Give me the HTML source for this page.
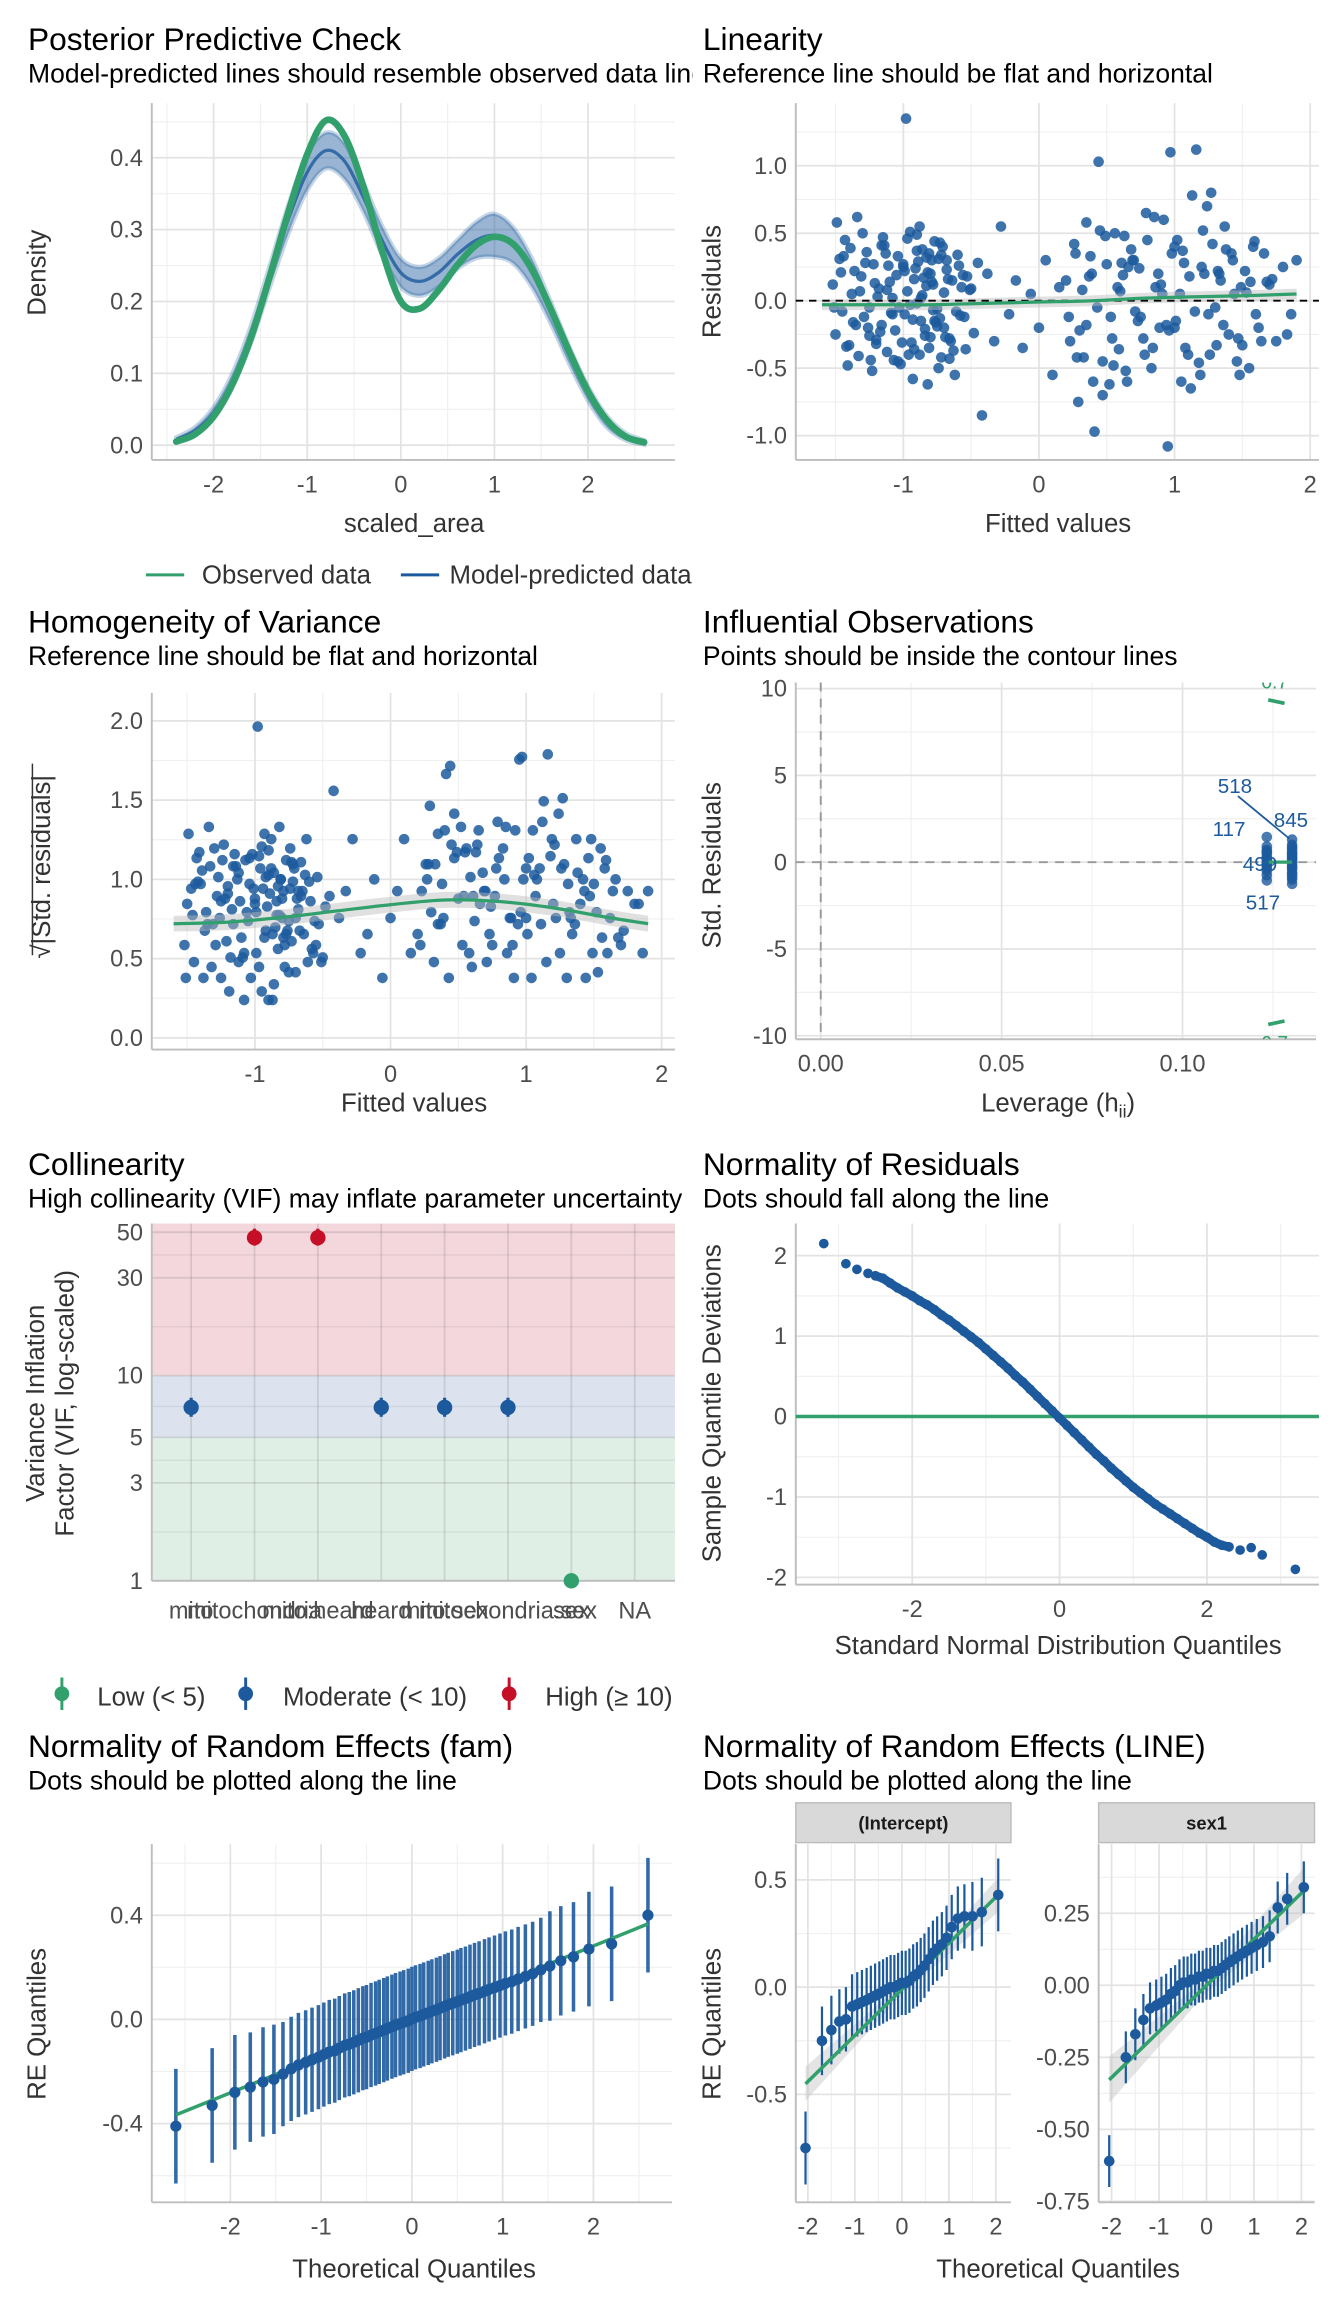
<!DOCTYPE html>
<html><head><meta charset="utf-8"><title>Model diagnostics</title>
<style>
html,body{margin:0;padding:0;background:#fff;}
svg{display:block;font-family:"Liberation Sans",Arial,sans-serif;}
</style></head>
<body>
<svg id="chart" xmlns="http://www.w3.org/2000/svg" viewBox="0 0 912 1563" width="1344" height="2304" preserveAspectRatio="none">
<rect x="0" y="0" width="912" height="1563" fill="#ffffff"/>
<defs>
<clipPath id="clipLeft"><rect x="0" y="0" width="470" height="1563"/></clipPath>
<clipPath id="clipInf"><rect x="540" y="463" width="353" height="242"/></clipPath>
</defs>
</svg>
<script>
// ---------- Panel 1: posterior predictive check ----------
const ppcX = [-2.4,-2.2,-2.0,-1.8,-1.6,-1.4,-1.2,-1.0,-0.8,-0.6,-0.4,-0.2,0.0,0.2,0.4,0.6,0.8,1.0,1.2,1.4,1.6,1.8,2.0,2.2,2.4,2.6];
const ppcObserved = [0.005,0.015,0.04,0.085,0.15,0.235,0.325,0.405,0.452,0.43,0.36,0.27,0.2,0.19,0.215,0.25,0.278,0.29,0.28,0.245,0.19,0.13,0.075,0.035,0.012,0.004];
const ppcPredMean = [0.008,0.02,0.045,0.09,0.155,0.235,0.315,0.38,0.41,0.395,0.345,0.285,0.24,0.228,0.24,0.265,0.285,0.292,0.278,0.24,0.185,0.125,0.072,0.033,0.012,0.004];
const ppcPredHi = [0.011,0.025,0.053,0.1,0.167,0.25,0.335,0.405,0.435,0.42,0.365,0.305,0.26,0.248,0.26,0.285,0.31,0.322,0.303,0.26,0.2,0.137,0.082,0.041,0.017,0.007];
const ppcPredLo = [0.005,0.015,0.037,0.08,0.143,0.22,0.295,0.355,0.385,0.37,0.325,0.265,0.22,0.208,0.22,0.245,0.26,0.262,0.253,0.22,0.17,0.113,0.062,0.025,0.007,0.001];

// ---------- Panel 2/3: linearity & homogeneity ----------
const fitted = [-1.52,-1.5,-1.47,-1.45,-1.43,-1.4,-1.38,-1.36,-1.33,-1.31,-1.29,-1.27,-1.25,-1.22,-1.2,-1.18,-1.16,-1.14,-1.12,-1.1,-1.08,-1.06,-1.04,-1.02,-1.0,-0.99,-0.97,-0.95,-0.94,-0.92,-0.9,-0.89,-0.87,-0.86,-0.84,-0.83,-0.81,-0.8,-0.78,-0.77,-0.75,-0.74,-0.72,-0.7,-0.68,-0.66,-0.64,-0.62,-0.6,-0.58,-0.56,-0.54,-0.51,-0.48,-0.45,-1.49,-1.41,-1.34,-1.23,-1.15,-1.07,-0.98,-0.93,-0.88,-0.82,-0.79,-0.76,-0.71,-0.65,-0.57,-1.26,-1.11,-0.96,-0.85,-0.73,-0.9,-1.03,-0.81,-0.69,-1.19,
-0.42,-0.38,-0.33,-0.28,-0.22,-0.17,-0.12,-0.06,0.0,0.05,0.1,0.15,
0.2,0.23,0.26,0.29,0.32,0.35,0.38,0.41,0.44,0.47,0.5,0.53,0.56,0.59,0.62,0.65,0.68,0.71,0.74,0.77,0.8,0.83,0.86,0.89,0.92,0.95,0.98,1.01,1.04,1.07,1.1,1.13,1.16,1.19,1.22,1.25,1.28,1.31,1.34,1.37,1.4,1.43,1.46,1.49,1.52,1.55,1.58,1.62,1.66,1.7,1.75,1.8,1.86,1.9,0.3,0.37,0.45,0.52,0.6,0.7,0.78,0.85,0.94,1.02,1.12,1.2,1.3,1.38,1.47,1.56,0.4,0.63,0.88,1.08,1.27,1.44,0.97,0.55,
-1.51,-1.46,-1.42,-1.39,-1.35,-1.32,-1.28,-1.24,-1.21,-1.17,-1.13,-1.09,-1.05,-1.01,-0.97,-0.93,-0.91,-0.88,-0.86,-0.83,-0.8,-0.78,-0.75,-0.73,-0.7,-0.67,-0.63,-0.59,-0.55,-0.5,-1.44,-1.37,-1.3,-1.2,-1.12,-1.04,-0.99,-0.95,-0.9,-0.84,-0.79,-0.74,-0.68,-0.61,-0.53,-1.25,-1.16,-1.08,-1.0,-0.92,-0.87,-0.82,-0.77,-0.72,-0.66,
0.22,0.27,0.33,0.39,0.43,0.49,0.54,0.58,0.64,0.69,0.73,0.79,0.84,0.9,0.96,1.0,1.05,1.11,1.15,1.21,1.26,1.32,1.36,1.42,1.48,1.53,1.59,1.64,1.72,1.83,0.35,0.47,0.61,0.75,0.91,1.06,1.18,1.33,1.5,1.68,0.28,0.66,1.0,1.24,1.6];
const residuals = [0.12,-0.25,0.31,-0.08,0.45,-0.33,0.05,0.22,-0.41,0.18,-0.12,0.36,-0.05,0.27,-0.29,0.09,-0.18,0.41,-0.38,0.14,0.02,-0.22,0.33,-0.47,0.25,-0.1,0.07,0.51,-0.31,0.16,-0.02,0.29,-0.15,0.38,-0.26,0.11,-0.35,0.2,-0.07,0.44,
-0.19,0.31,-0.42,0.06,0.23,-0.28,0.15,-0.55,0.34,-0.11,0.19,-0.36,0.08,-0.24,0.28,0.58,-0.48,0.62,-0.52,0.47,-0.44,1.35,-0.58,0.55,-0.62,0.3,-0.16,0.4,-0.3,0.1,-0.2,0.26,-0.4,0.17,-0.13,0.49,-0.05,0.35,-0.27,0.03,
-0.85,0.2,-0.3,0.55,-0.1,0.15,-0.35,0.05,-0.2,0.3,-0.55,0.1,
0.15,-0.3,0.42,-0.75,0.08,-0.18,0.33,-0.97,1.03,-0.45,0.27,-0.12,0.5,-0.36,0.19,-0.6,0.38,-0.08,0.24,-0.28,0.45,-0.5,0.1,-0.2,0.6,-1.08,0.35,-0.15,0.05,0.28,-0.4,0.78,1.12,-0.55,0.2,-0.1,0.42,-0.33,0.15,0.55,-0.25,0.3,-0.45,0.1,0.22,-0.5,0.4,-0.2,0.35,0.12,-0.3,0.25,-0.1,0.3,
-0.22,0.18,0.52,-0.62,0.07,0.3,-0.4,0.62,-0.18,0.45,-0.65,0.25,-0.05,0.38,-0.28,0.14,-0.6,0.48,0.2,-0.35,0.8,0.05,1.1,-0.48,
-0.05,0.21,-0.34,0.39,-0.18,0.07,0.28,-0.44,0.13,-0.23,0.35,-0.09,0.19,-0.31,0.46,-0.14,0.24,-0.4,0.04,0.32,-0.27,0.12,-0.06,0.43,-0.2,0.16,-0.37,0.26,-0.12,0.09,0.33,-0.16,0.5,-0.32,0.08,-0.45,0.22,-0.03,0.37,-0.21,0.14,-0.5,0.3,-0.08,0.18,-0.26,0.41,-0.1,0.27,-0.36,0.02,0.21,-0.15,0.34,-0.43,
-0.12,0.35,-0.42,0.2,-0.05,0.48,-0.28,0.1,-0.52,0.3,-0.15,0.65,-0.35,0.12,-0.22,0.4,-0.6,0.18,-0.08,0.52,-0.4,0.22,-0.18,0.35,-0.55,0.06,0.44,-0.3,0.16,-0.25,0.58,-0.7,0.28,-0.12,0.05,0.37,-0.46,0.2,-0.33,0.14,-0.42,0.25,-0.2,0.7,-0.1];
const residualSD = 0.35;
const loessX = [-1.6,-1.2,-0.8,-0.4,0,0.4,0.8,1.2,1.6,1.9];
const linLoessY = [-0.03,-0.03,-0.03,-0.02,-0.01,0.0,0.02,0.03,0.04,0.05];
const homLoessY = [0.72,0.73,0.76,0.8,0.84,0.87,0.86,0.82,0.76,0.72];

// ---------- Panel 4: influential observations ----------
const leverage = [0.1233,0.1233,0.1233,0.1233,0.1233,0.1233,0.1233,0.1233,0.1233,0.1233,0.1233,0.1233,0.1233,0.1233,0.1233,
0.1303,0.1303,0.1303,0.1303,0.1303,0.1303,0.1303,0.1303,0.1303,0.1303,0.1303,0.1303,0.1303,0.1303,0.1303,0.1303,0.1303,0.1303,0.1303];
const stdResid = [1.45,0.9,0.7,0.5,0.3,0.15,0,-0.2,-0.35,-0.5,0.6,0.2,-0.1,-0.75,-1.05,
1.3,1.0,0.75,0.5,0.3,0.1,-0.05,-0.2,-0.4,-0.6,-0.85,-1.0,-1.25,0.6,0.2,-0.3,-0.7,0.85,0.4];
const influenceLabels = ["518","117","845","499","517"];

// ---------- Panel 5: collinearity ----------
const vifTerms = ["mito","mitochondria","mito:heard","heard","mito:sex","mitochondria:sex","sex","NA"];
const vifValues = [7,47,47,7,7,7,1,null];
const vifLow = [6.3,43,43,6.3,6.3,6.3,1,null];
const vifHigh = [7.8,52,52,7.8,7.8,7.8,1,null];

// ---------- Panel 6: normality of residuals ----------
const qqTheo = [-3.2,-2.9,-2.75,-2.6,-2.5,-2.4,-2.3,-2.2,-2.1,-2.0,-1.9,-1.8,-1.7,-1.6,-1.5,-1.4,-1.3,-1.2,-1.1,-1.0,-0.9,-0.8,-0.7,-0.6,-0.5,-0.4,-0.3,-0.2,-0.1,0,0.1,0.2,0.3,0.4,0.5,0.6,0.7,0.8,0.9,1.0,1.1,1.2,1.3,1.4,1.5,1.6,1.7,1.8,1.9,2.0,2.1,2.2,2.3,2.45,2.6,2.75,3.2];
const qqSample = [2.15,1.9,1.83,1.78,1.75,1.72,1.66,1.6,1.55,1.5,1.44,1.39,1.33,1.26,1.2,1.13,1.06,0.99,0.92,0.84,0.76,0.68,0.6,0.51,0.43,0.34,0.25,0.16,0.07,-0.02,-0.11,-0.2,-0.29,-0.38,-0.47,-0.55,-0.64,-0.72,-0.8,-0.88,-0.95,-1.02,-1.09,-1.15,-1.21,-1.27,-1.33,-1.39,-1.45,-1.5,-1.56,-1.6,-1.62,-1.66,-1.63,-1.72,-1.9];

// ---------- Panel 7: random effects (fam) ----------
const famTheo = [-2.6,-2.2,-1.95,-1.78,-1.64,-1.52,-1.42,-1.33,-1.25,-1.17,-1.1,-1.03,-0.97,-0.91,-0.85,-0.8,-0.74,-0.69,-0.64,-0.59,-0.54,-0.5,-0.45,-0.4,-0.36,-0.31,-0.27,-0.22,-0.18,-0.13,-0.09,-0.04,0,0.04,0.09,0.13,0.18,0.22,0.27,0.31,0.36,0.4,0.45,0.5,0.54,0.59,0.64,0.69,0.74,0.8,0.85,0.91,0.97,1.03,1.1,1.17,1.25,1.33,1.42,1.52,1.64,1.78,1.95,2.2,2.6];
const famRE = [-0.41,-0.33,-0.28,-0.26,-0.24,-0.23,-0.21,-0.19,-0.175,-0.165,-0.155,-0.145,-0.135,-0.125,-0.12,-0.11,-0.1,-0.095,-0.088,-0.08,-0.072,-0.068,-0.06,-0.054,-0.048,-0.041,-0.035,-0.028,-0.022,-0.016,-0.011,-0.005,0.002,0.008,0.013,0.019,0.025,0.031,0.037,0.043,0.05,0.056,0.062,0.068,0.074,0.08,0.087,0.094,0.1,0.108,0.115,0.122,0.13,0.138,0.145,0.155,0.165,0.175,0.19,0.205,0.225,0.24,0.27,0.29,0.4];
const famSE = [0.22,0.22,0.22,0.21,0.21,0.21,0.2,0.2,0.2,0.2,0.2,0.2,0.2,0.2,0.2,0.2,0.2,0.2,0.2,0.2,0.2,0.2,0.2,0.2,0.2,0.2,0.2,0.2,0.2,0.2,0.2,0.2,0.2,0.2,0.2,0.2,0.2,0.2,0.2,0.2,0.2,0.2,0.2,0.2,0.2,0.2,0.2,0.2,0.2,0.2,0.2,0.2,0.2,0.2,0.2,0.2,0.2,0.2,0.2,0.21,0.21,0.21,0.22,0.22,0.22];
const famLine = [0.0, 0.141]; // intercept, slope

// ---------- Panel 8: random effects (LINE) ----------
const lineTheo = [-2.05,-1.7,-1.5,-1.33,-1.19,-1.06,-0.95,-0.85,-0.75,-0.66,-0.57,-0.48,-0.4,-0.32,-0.24,-0.16,-0.08,0,0.08,0.16,0.24,0.32,0.4,0.48,0.57,0.66,0.75,0.85,0.95,1.06,1.19,1.33,1.5,1.7,2.05];
const lineInterceptRE = [-0.75,-0.25,-0.2,-0.16,-0.15,-0.09,-0.08,-0.07,-0.06,-0.05,-0.04,-0.03,-0.02,-0.01,0,0.0,0.01,0.02,0.02,0.03,0.05,0.06,0.08,0.1,0.13,0.16,0.18,0.2,0.23,0.28,0.32,0.33,0.33,0.35,0.43];
const lineInterceptSE = [0.17,0.16,0.16,0.15,0.15,0.15,0.15,0.15,0.15,0.15,0.15,0.15,0.15,0.15,0.15,0.15,0.15,0.15,0.15,0.15,0.15,0.15,0.15,0.15,0.15,0.15,0.15,0.15,0.15,0.15,0.15,0.15,0.16,0.16,0.17];
const lineSexRE = [-0.61,-0.25,-0.17,-0.12,-0.08,-0.07,-0.06,-0.05,-0.03,-0.02,0.0,0.01,0.01,0.02,0.02,0.03,0.03,0.04,0.04,0.05,0.05,0.06,0.07,0.08,0.09,0.1,0.11,0.12,0.13,0.14,0.15,0.17,0.27,0.3,0.34];
const lineSexSE = [0.09,0.09,0.09,0.09,0.09,0.09,0.09,0.09,0.09,0.09,0.09,0.09,0.09,0.09,0.09,0.09,0.09,0.09,0.09,0.09,0.09,0.09,0.09,0.09,0.09,0.09,0.09,0.09,0.09,0.09,0.09,0.09,0.09,0.09,0.09];
const lineInterceptFit = [-0.01, 0.215];
const lineSexFit = [0.0, 0.16];

// ================= drawing =================
const NS = 'http://www.w3.org/2000/svg';
const svg = document.getElementById('chart');
const GREEN = '#31a06c', BLUE = '#1c5a9d', RED = '#c50f26';
const TICK = '#4d4d4d';
const TICKSIZE = 16, AXSIZE = 17.5;

function mk(tag, attrs, parent) {
  const e = document.createElementNS(NS, tag);
  for (const k in attrs) e.setAttribute(k, attrs[k]);
  (parent || svg).appendChild(e);
  return e;
}
function named(e, name) {
  
  
  return e;
}
function lin(d0, d1, r0, r1) { return v => r0 + (v - d0) * (r1 - r0) / (d1 - d0); }
function txt(parent, x, y, s, size, fill, anchor, name, extra) {
  const a = {x: x, y: y, 'font-size': size, fill: fill, 'text-anchor': anchor || 'start'};
  if (extra) for (const k in extra) a[k] = extra[k];
  const t = mk('text', a, parent);
  t.textContent = s;
  named(t, name);
  return t;
}
function grp(name) {
  const g = mk('g', {});
  named(g, name);
  return g;
}
function smoothPath(pts) {
  let d = 'M' + pts[0][0].toFixed(2) + ',' + pts[0][1].toFixed(2);
  for (let i = 0; i < pts.length - 1; i++) {
    const p0 = pts[i - 1] || pts[i], p1 = pts[i], p2 = pts[i + 1], p3 = pts[i + 2] || p2;
    const c1 = [p1[0] + (p2[0] - p0[0]) / 6, p1[1] + (p2[1] - p0[1]) / 6];
    const c2 = [p2[0] - (p3[0] - p1[0]) / 6, p2[1] - (p3[1] - p1[1]) / 6];
    d += ' C' + c1[0].toFixed(2) + ',' + c1[1].toFixed(2) + ' ' + c2[0].toFixed(2) + ',' + c2[1].toFixed(2) + ' ' + p2[0].toFixed(2) + ',' + p2[1].toFixed(2);
  }
  return d;
}
function titles(x, y, title, sub, key, clip) {
  txt(svg, x, y, title, 21.5, '#000', 'start', key + '-title');
  const ex = clip ? {'clip-path': 'url(#clipLeft)'} : null;
  txt(svg, x, y + 22, sub, 18, '#000', 'start', key + '-subtitle', ex);
}
function axes(g, p) {
  (p.ym || []).forEach(v => { named(mk('line', {x1: p.x0, x2: p.x1, y1: p.sy(v), y2: p.sy(v), stroke: '#f0f0f0', 'stroke-width': 0.8}, g), 'minor-gridline'); });
  (p.xm || []).forEach(v => { named(mk('line', {x1: p.sx(v), x2: p.sx(v), y1: p.y0, y2: p.y1, stroke: '#f0f0f0', 'stroke-width': 0.8}, g), 'minor-gridline'); });
  p.yt.forEach(v => { named(mk('line', {x1: p.x0, x2: p.x1, y1: p.sy(v), y2: p.sy(v), stroke: '#e3e3e3', 'stroke-width': 1.2}, g), 'major-gridline'); });
  p.xt.forEach(v => { named(mk('line', {x1: p.sx(v), x2: p.sx(v), y1: p.y0, y2: p.y1, stroke: '#e3e3e3', 'stroke-width': 1.2}, g), 'major-gridline'); });
  named(mk('line', {x1: p.x0, x2: p.x0, y1: p.y0, y2: p.y1, stroke: '#bdbdbd', 'stroke-width': 1.3}, g), 'y-axis-line');
  named(mk('line', {x1: p.x0, x2: p.x1, y1: p.y1, y2: p.y1, stroke: '#bdbdbd', 'stroke-width': 1.3}, g), 'x-axis-line');
  p.yt.forEach((v, i) => { txt(g, p.x0 - 6, p.sy(v) + 5.5, p.yl[i], TICKSIZE, TICK, 'end', 'y-tick-label'); });
  p.xt.forEach((v, i) => { txt(g, p.sx(v), p.y1 + 22, p.xl[i], TICKSIZE, TICK, 'middle', 'x-tick-label'); });
}
function ytitle(x, y, s, name) {
  txt(svg, x, y, s, AXSIZE, '#333', 'middle', name, {transform: 'rotate(-90 ' + x + ' ' + y + ')'});
}

// ---------- Panel 1 ----------
titles(19, 34, 'Posterior Predictive Check', 'Model-predicted lines should resemble observed data lines', 'ppc', true);
{
  const g = grp('ppc-panel');
  const p = {x0: 103, x1: 458, y0: 70, y1: 312, sx: lin(-2.661, 2.929, 103, 458), sy: lin(-0.0205, 0.476, 312, 70),
    xt: [-2,-1,0,1,2], xl: ['-2','-1','0','1','2'], xm: [-2.5,-1.5,-0.5,0.5,1.5,2.5],
    yt: [0,0.1,0.2,0.3,0.4], yl: ['0.0','0.1','0.2','0.3','0.4'], ym: [0.05,0.15,0.25,0.35,0.45]};
  axes(g, p);
  const hi = ppcX.map((x, i) => [p.sx(x), p.sy(ppcPredHi[i])]);
  const lo = ppcX.map((x, i) => [p.sx(x), p.sy(ppcPredLo[i])]).reverse();
  named(mk('path', {d: smoothPath(hi) + ' L' + smoothPath(lo).slice(1) + ' Z', fill: BLUE, 'fill-opacity': 0.45, stroke: BLUE, 'stroke-opacity': 0.25, 'stroke-width': 3}, g), 'model-predicted-band');
  named(mk('path', {d: smoothPath(ppcX.map((x, i) => [p.sx(x), p.sy(ppcPredMean[i])])), fill: 'none', stroke: BLUE, 'stroke-width': 2.2, 'stroke-opacity': 0.8}, g), 'model-predicted-line');
  named(mk('path', {d: smoothPath(ppcX.map((x, i) => [p.sx(x), p.sy(ppcObserved[i])])), fill: 'none', stroke: GREEN, 'stroke-width': 4.5, 'stroke-linecap': 'round'}, g), 'observed-data-line');
  txt(svg, 281, 361, 'scaled_area', AXSIZE, '#333', 'middle', 'ppc-x-axis-title');
  ytitle(31, 185, 'Density', 'ppc-y-axis-title');
  const lg = grp('ppc-legend');
  named(mk('line', {x1: 99, x2: 125, y1: 390, y2: 390, stroke: GREEN, 'stroke-width': 2}, lg), 'legend-key-observed');
  txt(lg, 137, 396, 'Observed data', AXSIZE, '#333', 'start', 'legend-label-observed');
  named(mk('line', {x1: 272, x2: 298, y1: 390, y2: 390, stroke: BLUE, 'stroke-width': 2}, lg), 'legend-key-predicted');
  txt(lg, 305, 396, 'Model-predicted data', AXSIZE, '#333', 'start', 'legend-label-predicted', {'clip-path': 'url(#clipLeft)'});
}

// ---------- Panel 2 ----------
titles(477, 34, 'Linearity', 'Reference line should be flat and horizontal', 'linearity');
{
  const g = grp('linearity-panel');
  const p = {x0: 540, x1: 895, y0: 70, y1: 312, sx: lin(-1.793, 2.065, 540, 895), sy: lin(-1.18, 1.464, 312, 70),
    xt: [-1,0,1,2], xl: ['-1','0','1','2'], xm: [-1.5,-0.5,0.5,1.5],
    yt: [-1,-0.5,0,0.5,1], yl: ['-1.0','-0.5','0.0','0.5','1.0'], ym: [-0.75,-0.25,0.25,0.75,1.25]};
  axes(g, p);
  fitted.forEach((f, i) => {
    if (residuals[i] === undefined) return;
    const c = mk('circle', {cx: p.sx(f), cy: p.sy(residuals[i]), r: 3.6, fill: BLUE, 'fill-opacity': 0.85}, g);
    named(c, 'residual-point');
  });
  const up = loessX.map((x, i) => [p.sx(x), p.sy(linLoessY[i] + 0.04)]);
  const dn = loessX.map((x, i) => [p.sx(x), p.sy(linLoessY[i] - 0.04)]).reverse();
  named(mk('path', {d: smoothPath(up) + ' L' + smoothPath(dn).slice(1) + ' Z', fill: '#bbb', 'fill-opacity': 0.45}, g), 'loess-ribbon');
  named(mk('line', {x1: 540, x2: 895, y1: p.sy(0), y2: p.sy(0), stroke: '#000', 'stroke-width': 1.3, 'stroke-dasharray': '5,4'}, g), 'reference-line');
  named(mk('path', {d: smoothPath(loessX.map((x, i) => [p.sx(x), p.sy(linLoessY[i])])), fill: 'none', stroke: GREEN, 'stroke-width': 2.2}, g), 'loess-line');
  txt(svg, 718, 361, 'Fitted values', AXSIZE, '#333', 'middle', 'linearity-x-axis-title');
  ytitle(489, 191, 'Residuals', 'linearity-y-axis-title');
}

// ---------- Panel 3 ----------
titles(19, 429, 'Homogeneity of Variance', 'Reference line should be flat and horizontal', 'homogeneity');
{
  const g = grp('homogeneity-panel');
  const p = {x0: 103, x1: 458, y0: 470, y1: 712, sx: lin(-1.761, 2.098, 103, 458), sy: lin(-0.074, 2.177, 712, 470),
    xt: [-1,0,1,2], xl: ['-1','0','1','2'], xm: [-1.5,-0.5,0.5,1.5],
    yt: [0,0.5,1,1.5,2], yl: ['0.0','0.5','1.0','1.5','2.0'], ym: [0.25,0.75,1.25,1.75]};
  axes(g, p);
  fitted.forEach((f, i) => {
    if (residuals[i] === undefined) return;
    const v = Math.sqrt(Math.abs(residuals[i]) / residualSD);
    const c = mk('circle', {cx: p.sx(f), cy: p.sy(v), r: 3.6, fill: BLUE, 'fill-opacity': 0.85}, g);
    named(c, 'sqrt-std-residual-point');
  });
  const up = loessX.map((x, i) => [p.sx(x), p.sy(homLoessY[i] + 0.05)]);
  const dn = loessX.map((x, i) => [p.sx(x), p.sy(homLoessY[i] - 0.05)]).reverse();
  named(mk('path', {d: smoothPath(up) + ' L' + smoothPath(dn).slice(1) + ' Z', fill: '#bbb', 'fill-opacity': 0.45}, g), 'loess-ribbon');
  named(mk('path', {d: smoothPath(loessX.map((x, i) => [p.sx(x), p.sy(homLoessY[i])])), fill: 'none', stroke: GREEN, 'stroke-width': 2.2}, g), 'loess-line');
  txt(svg, 281, 754, 'Fitted values', AXSIZE, '#333', 'middle', 'homogeneity-x-axis-title');
  ytitle(34, 588, '√|Std. residuals|', 'homogeneity-y-axis-title');
  named(mk('line', {x1: 22, x2: 22, y1: 518, y2: 648, stroke: '#333', 'stroke-width': 1}), 'sqrt-overline');
}

// ---------- Panel 4 ----------
titles(477, 429, 'Influential Observations', 'Points should be inside the contour lines', 'influence');
{
  const g = grp('influence-panel');
  const p = {x0: 540, x1: 893, y0: 463, y1: 705, sx: lin(-0.0069, 0.1369, 540, 893), sy: lin(-10.2, 10.35, 705, 463),
    xt: [0,0.05,0.1], xl: ['0.00','0.05','0.10'], xm: [0.025,0.075,0.125],
    yt: [-10,-5,0,5,10], yl: ['-10','-5','0','5','10'], ym: [-7.5,-2.5,2.5,7.5]};
  axes(g, p);
  named(mk('line', {x1: p.sx(0), x2: p.sx(0), y1: 463, y2: 705, stroke: '#999', 'stroke-width': 1.3, 'stroke-dasharray': '6,5'}, g), 'zero-leverage-line');
  named(mk('line', {x1: 540, x2: 893, y1: p.sy(0), y2: p.sy(0), stroke: '#999', 'stroke-width': 1.3, 'stroke-dasharray': '6,5'}, g), 'zero-residual-line');
  named(mk('line', {x1: p.sx(0.1237), x2: p.sx(0.1282), y1: p.sy(9.35), y2: p.sy(9.15), stroke: GREEN, 'stroke-width': 2.5}, g), 'cook-contour-upper');
  named(mk('line', {x1: p.sx(0.1237), x2: p.sx(0.1282), y1: p.sy(-9.35), y2: p.sy(-9.15), stroke: GREEN, 'stroke-width': 2.5}, g), 'cook-contour-lower');
  txt(g, 865, 467, '0.7', 13, GREEN, 'middle', 'contour-label-upper', {'clip-path': 'url(#clipInf)'});
  txt(g, 865, 712, '0.7', 13, GREEN, 'middle', 'contour-label-lower', {'clip-path': 'url(#clipInf)'});
  leverage.forEach((l, i) => {
    const c = mk('circle', {cx: p.sx(l), cy: p.sy(stdResid[i]), r: 3.6, fill: BLUE, 'fill-opacity': 0.8}, g);
    named(c, 'observation-point');
  });
  named(mk('line', {x1: p.sx(0.1233), x2: p.sx(0.1303), y1: p.sy(0), y2: p.sy(0), stroke: GREEN, 'stroke-width': 2.2}, g), 'loess-line');
  named(mk('line', {x1: 840, x2: 875, y1: 540, y2: 569, stroke: BLUE, 'stroke-width': 1.2}, g), 'label-connector');
  txt(g, 838, 538, influenceLabels[0], 14, BLUE, 'middle', 'point-label-518');
  txt(g, 834, 567, influenceLabels[1], 14, BLUE, 'middle', 'point-label-117');
  txt(g, 876, 561, influenceLabels[2], 14, BLUE, 'middle', 'point-label-845');
  txt(g, 855, 591, influenceLabels[3], 14, BLUE, 'middle', 'point-label-499');
  txt(g, 857, 617, influenceLabels[4], 14, BLUE, 'middle', 'point-label-517');
  const lt = txt(svg, 718, 754, 'Leverage (h', AXSIZE, '#333', 'middle', 'influence-x-axis-title');
  const sub = mk('tspan', {'font-size': 12, dy: 4}, lt); sub.textContent = 'ii';
  named(sub, 'subscript-ii');
  const cl = mk('tspan', {dy: -4}, lt); cl.textContent = ')';
  named(cl, 'closing-paren');
  ytitle(489, 587, 'Std. Residuals', 'influence-y-axis-title');
}

// ---------- Panel 5 ----------
titles(19, 797, 'Collinearity', 'High collinearity (VIF) may inflate parameter uncertainty', 'collinearity', true);
{
  const g = grp('collinearity-panel');
  const x0 = 103, x1 = 458, y0 = 830, y1 = 1072.4;
  const sy = v => 1072.4 - 139.2 * Math.log10(v);
  const sx = i => 129.7 + i * 43;
  named(mk('rect', {x: x0, y: y0, width: x1 - x0, height: sy(10) - y0, fill: '#f4d7dc'}, g), 'high-vif-band');
  named(mk('rect', {x: x0, y: sy(10), width: x1 - x0, height: sy(5) - sy(10), fill: '#dce3ef'}, g), 'moderate-vif-band');
  named(mk('rect', {x: x0, y: sy(5), width: x1 - x0, height: y1 - sy(5), fill: '#dfefe6'}, g), 'low-vif-band');
  [1.73, 3.87, 7.07, 17.3, 38.7].forEach(v => { named(mk('line', {x1: x0, x2: x1, y1: sy(v), y2: sy(v), stroke: 'rgba(120,120,120,0.13)', 'stroke-width': 1}, g), 'minor-gridline'); });
  const yt = [1,3,5,10,30,50];
  yt.forEach(v => { named(mk('line', {x1: x0, x2: x1, y1: sy(v), y2: sy(v), stroke: 'rgba(120,120,120,0.22)', 'stroke-width': 1.2}, g), 'major-gridline'); });
  vifTerms.forEach((t, i) => { named(mk('line', {x1: sx(i), x2: sx(i), y1: y0, y2: y1, stroke: 'rgba(120,120,120,0.22)', 'stroke-width': 1.2}, g), 'major-gridline'); });
  named(mk('line', {x1: x0, x2: x0, y1: y0, y2: y1, stroke: '#bdbdbd', 'stroke-width': 1.3}, g), 'y-axis-line');
  named(mk('line', {x1: x0, x2: x1, y1: y1, y2: y1, stroke: '#bdbdbd', 'stroke-width': 1.3}, g), 'x-axis-line');
  yt.forEach(v => { txt(g, x0 - 6, sy(v) + 5.5, String(v), TICKSIZE, TICK, 'end', 'y-tick-label'); });
  vifTerms.forEach((t, i) => { txt(g, sx(i), 1098, t, TICKSIZE, TICK, 'middle', 'x-tick-label'); });
  vifValues.forEach((v, i) => {
    if (v === null) return;
    const col = v >= 10 ? RED : (v >= 5 ? BLUE : GREEN);
    named(mk('line', {x1: sx(i), x2: sx(i), y1: sy(vifLow[i]), y2: sy(vifHigh[i]), stroke: col, 'stroke-width': 2.2}, g), 'vif-interval');
    named(mk('circle', {cx: sx(i), cy: sy(v), r: 5.2, fill: col}, g), 'vif-point');
  });
  ytitle(30, 952, 'Variance Inflation', 'collinearity-y-axis-title-line1');
  ytitle(50, 952, 'Factor (VIF, log-scaled)', 'collinearity-y-axis-title-line2');
  const lg = grp('collinearity-legend');
  [[42, GREEN, 66, 'Low (< 5)'], [166.7, BLUE, 192, 'Moderate (< 10)'], [345.5, RED, 370, 'High (≥ 10)']].forEach(e => {
    named(mk('line', {x1: e[0], x2: e[0], y1: 1138, y2: 1160, stroke: e[1], 'stroke-width': 2}, lg), 'legend-key-line');
    named(mk('circle', {cx: e[0], cy: 1149, r: 5, fill: e[1]}, lg), 'legend-key-point');
    txt(lg, e[2], 1157, e[3], AXSIZE, '#333', 'start', 'legend-label');
  });
}

// ---------- Panel 6 ----------
titles(477, 797, 'Normality of Residuals', 'Dots should fall along the line', 'normality');
{
  const g = grp('normality-panel');
  const p = {x0: 540, x1: 895, y0: 830, y1: 1075, sx: lin(-3.58, 3.52, 540, 895), sy: lin(-2.09, 2.4, 1075, 830),
    xt: [-2,0,2], xl: ['-2','0','2'], xm: [-3,-1,1,3],
    yt: [-2,-1,0,1,2], yl: ['-2','-1','0','1','2'], ym: [-1.5,-0.5,0.5,1.5]};
  axes(g, p);
  named(mk('line', {x1: 540, x2: 895, y1: p.sy(0), y2: p.sy(0), stroke: GREEN, 'stroke-width': 2.4}, g), 'reference-line');
  const core = qqTheo.map((t, i) => [p.sx(t), p.sy(qqSample[i])]).filter((q, i) => qqTheo[i] >= -2.5 && qqTheo[i] <= 2.3);
  named(mk('polyline', {points: core.map(q => q.join(',')).join(' '), fill: 'none', stroke: BLUE, 'stroke-width': 6, 'stroke-linecap': 'round', 'stroke-linejoin': 'round'}, g), 'qq-dense-points');
  qqTheo.forEach((t, i) => {
    const c = mk('circle', {cx: p.sx(t), cy: p.sy(qqSample[i]), r: 3.3, fill: BLUE}, g);
    named(c, 'qq-point');
  });
  txt(svg, 718, 1122, 'Standard Normal Distribution Quantiles', AXSIZE, '#333', 'middle', 'normality-x-axis-title');
  ytitle(489, 952, 'Sample Quantile Deviations', 'normality-y-axis-title');
}

// ---------- Panel 7 ----------
titles(19, 1192, 'Normality of Random Effects (fam)', 'Dots should be plotted along the line', 're-fam');
{
  const g = grp('re-fam-panel');
  const p = {x0: 103, x1: 456, y0: 1251, y1: 1494, sx: lin(-2.865, 2.865, 103, 456), sy: lin(-0.702, 0.673, 1494, 1251),
    xt: [-2,-1,0,1,2], xl: ['-2','-1','0','1','2'], xm: [-2.5,-1.5,-0.5,0.5,1.5,2.5],
    yt: [-0.4,0,0.4], yl: ['-0.4','0.0','0.4'], ym: [-0.6,-0.2,0.2,0.6]};
  axes(g, p);
  famTheo.forEach((t, i) => {
    named(mk('line', {x1: p.sx(t), x2: p.sx(t), y1: p.sy(famRE[i] - famSE[i]), y2: p.sy(famRE[i] + famSE[i]), stroke: BLUE, 'stroke-width': 2.4, 'stroke-opacity': 0.9}, g), 're-interval');
  });
  named(mk('line', {x1: p.sx(-2.6), x2: p.sx(2.6), y1: p.sy(famLine[0] + famLine[1] * -2.6), y2: p.sy(famLine[0] + famLine[1] * 2.6), stroke: GREEN, 'stroke-width': 2.4}, g), 'reference-line');
  famTheo.forEach((t, i) => {
    named(mk('circle', {cx: p.sx(t), cy: p.sy(famRE[i]), r: 3.8, fill: BLUE}, g), 're-point');
  });
  txt(svg, 281, 1545, 'Theoretical Quantiles', AXSIZE, '#333', 'middle', 're-fam-x-axis-title');
  ytitle(31, 1373, 'RE Quantiles', 're-fam-y-axis-title');
}

// ---------- Panel 8 ----------
titles(477, 1192, 'Normality of Random Effects (LINE)', 'Dots should be plotted along the line', 're-line');
function facet(key, label, x0, x1, sx, sy, yt, yl, ym, re, se, fit) {
  const g = grp(key + '-facet');
  named(mk('rect', {x: x0, y: 1223, width: x1 - x0, height: 27, fill: '#d9d9d9', stroke: '#bdbdbd', 'stroke-width': 1}, g), key + '-strip');
  txt(g, (x0 + x1) / 2, 1241, label, 12.5, '#1a1a1a', 'middle', key + '-strip-label', {'font-weight': 'bold'});
  const p = {x0: x0, x1: x1, y0: 1251, y1: 1494, sx: sx, sy: sy,
    xt: [-2,-1,0,1,2], xl: ['-2','-1','0','1','2'], xm: [-1.5,-0.5,0.5,1.5], yt: yt, yl: yl, ym: ym};
  axes(g, p);
  const a = -2.05, b = 2.05, w = 0.05;
  const rib = [[sx(a), sy(fit[0] + fit[1] * a + w * 1.6)], [sx(0), sy(fit[0] + w * 0.5)], [sx(b), sy(fit[0] + fit[1] * b + w * 1.6)],
               [sx(b), sy(fit[0] + fit[1] * b - w * 1.6)], [sx(0), sy(fit[0] - w * 0.5)], [sx(a), sy(fit[0] + fit[1] * a - w * 1.6)]];
  named(mk('polygon', {points: rib.map(q => q.join(',')).join(' '), fill: '#bbb', 'fill-opacity': 0.4}, g), key + '-ribbon');
  lineTheo.forEach((t, i) => {
    named(mk('line', {x1: sx(t), x2: sx(t), y1: sy(re[i] - se[i]), y2: sy(re[i] + se[i]), stroke: BLUE, 'stroke-width': 1.5}, g), 're-interval');
  });
  named(mk('line', {x1: sx(a), x2: sx(b), y1: sy(fit[0] + fit[1] * a), y2: sy(fit[0] + fit[1] * b), stroke: GREEN, 'stroke-width': 2.4}, g), key + '-reference-line');
  lineTheo.forEach((t, i) => {
    named(mk('circle', {cx: sx(t), cy: sy(re[i]), r: 3.6, fill: BLUE}, g), 're-point');
  });
}
facet('intercept', '(Intercept)', 540, 686, lin(-2.257, 2.32, 540, 686), lin(-1.003, 0.667, 1494, 1251),
  [-0.5,0,0.5], ['-0.5','0.0','0.5'], [-0.75,-0.25,0.25], lineInterceptRE, lineInterceptSE, lineInterceptFit);
facet('sex1', 'sex1', 745.5, 892, lin(-2.273, 2.276, 745.5, 892), lin(-0.753, 0.49, 1494, 1251),
  [-0.75,-0.5,-0.25,0,0.25], ['-0.75','-0.50','-0.25','0.00','0.25'], [-0.625,-0.375,-0.125,0.125,0.375], lineSexRE, lineSexSE, lineSexFit);
txt(svg, 718, 1545, 'Theoretical Quantiles', AXSIZE, '#333', 'middle', 're-line-x-axis-title');
ytitle(489, 1373, 'RE Quantiles', 're-line-y-axis-title');
</script>
</body></html>
